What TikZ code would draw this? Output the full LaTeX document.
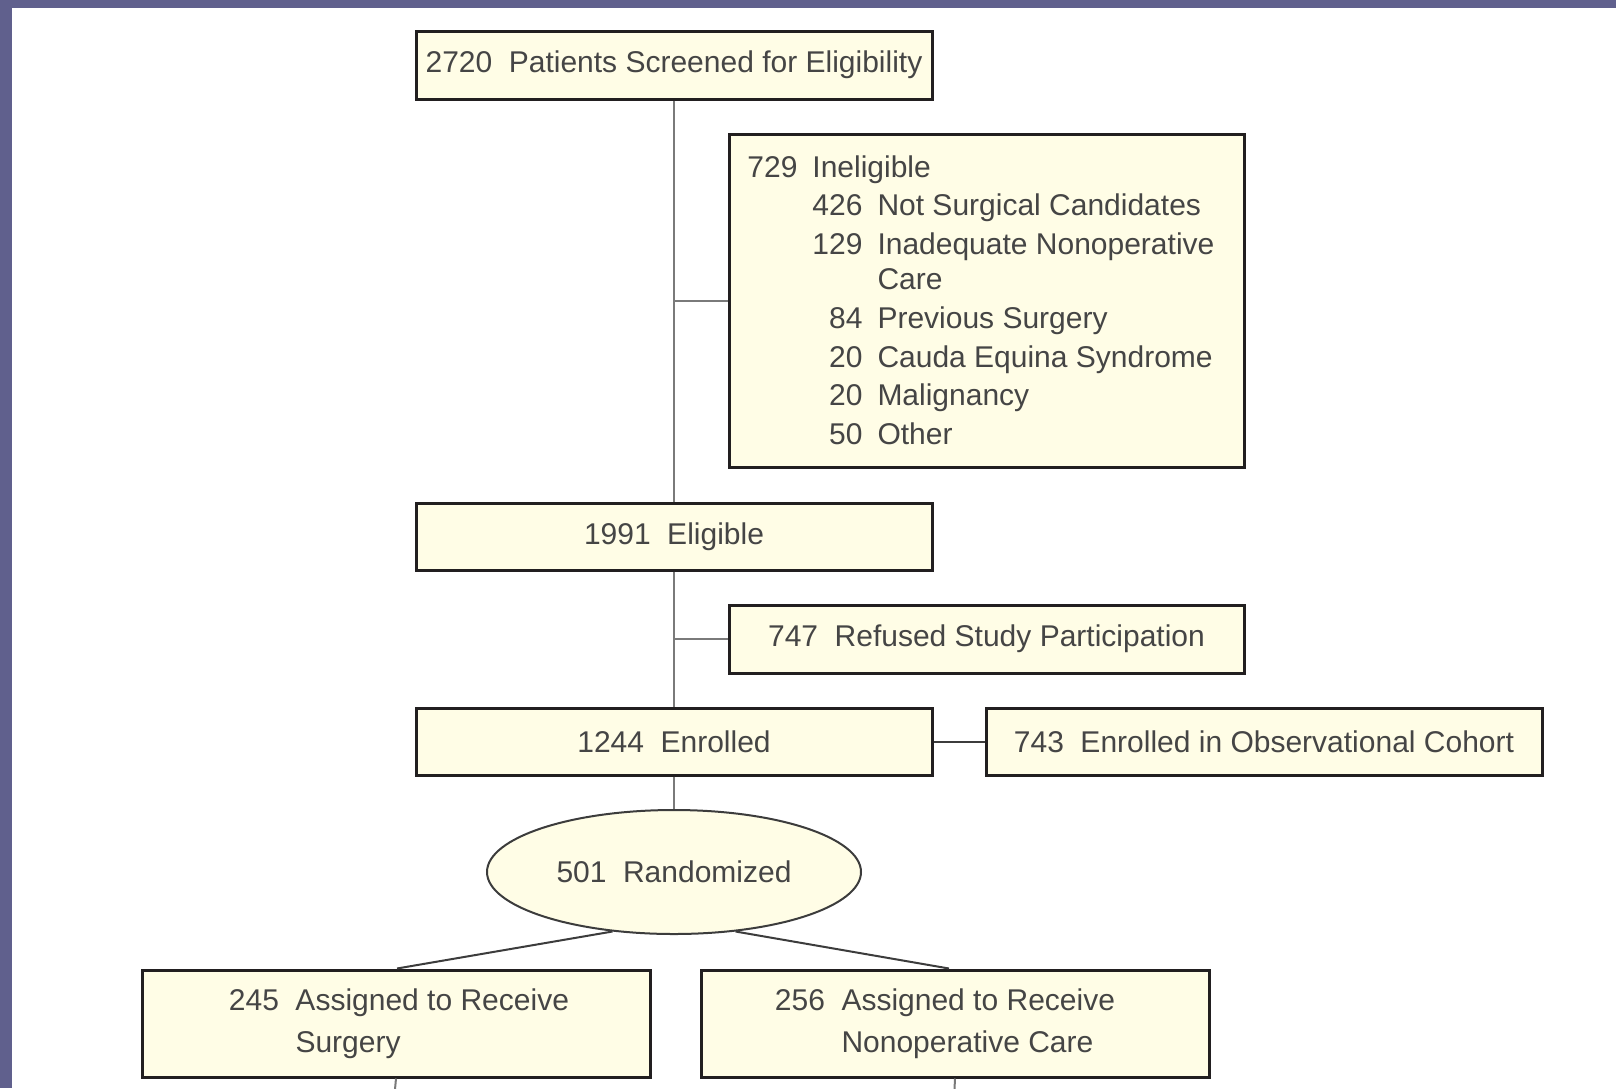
\documentclass[tikz,border=0pt]{standalone}
\usepackage{fontspec}
\setmainfont{Liberation Sans}
\usetikzlibrary{shapes.geometric,calc}
\definecolor{boxfill}{HTML}{FFFDE6}
\definecolor{frame}{HTML}{221F20}
\definecolor{linkgray}{HTML}{7A7A7A}
\definecolor{darklink}{HTML}{3C3C3C}
\definecolor{txt}{HTML}{454545}
\definecolor{band}{HTML}{60608D}
\newcommand\numgap{\hspace{0.55em}}
\begin{document}
\begin{tikzpicture}[x=0.5pt,y=-0.5pt,
  txtfont/.style={text=txt,font=\fontsize{15}{19.75}\selectfont},
  box/.style={draw=frame,line width=1.5pt,fill=boxfill,inner sep=0pt,txtfont},
  ell/.style={ellipse,draw=darklink,line width=1pt,fill=boxfill,inner sep=0pt,txtfont},
  trunk/.style={draw=linkgray,line width=1pt},
  branch/.style={draw=darklink,line width=1pt}]
\useasboundingbox (0,0) rectangle (1616,1088);
\fill[band] (0,0) rectangle (1616,8);
\fill[band] (0,0) rectangle (12,1088);

% boxes
\node[box,minimum width=258pt,minimum height=34pt] (b1) at (674,65)
  {2720\numgap Patients Screened for Eligibility};
\node[box,minimum width=257.5pt,minimum height=166.5pt] (inelig) at (986.5,300.5) {};
\node[anchor=base west,inner sep=0pt,text=txt,font=\fontsize{15}{19.4}\selectfont] (ineligtext) at (747,177)
  {\begin{tabular}[t]{@{}l@{\hspace{7.5pt}}r@{\hspace{7.5pt}}l@{}}
   729 & \multicolumn{2}{@{}l}{Ineligible}\\
       & 426 & Not Surgical Candidates\\
       & 129 & Inadequate Nonoperative\\[-2pt]
       &     & Care\\
       & 84  & Previous Surgery\\
       & 20  & Cauda Equina Syndrome\\
       & 20  & Malignancy\\
       & 50  & Other
   \end{tabular}};
\node[box,minimum width=258pt,minimum height=33.5pt] (elig) at (674,536.5)
  {1991\numgap Eligible};
\node[box,minimum width=257.5pt,minimum height=34pt] (refused) at (986.5,639)
  {747\numgap Refused Study Participation};
\node[box,minimum width=258pt,minimum height=33.5pt] (enrolled) at (674,741.5)
  {1244\numgap Enrolled};
\node[box,minimum width=278pt,minimum height=33.5pt] (obs) at (1264,741.5)
  {743\numgap Enrolled in Observational Cohort};
\node[ell,minimum width=187pt,minimum height=62pt] (rand) at (674,872)
  {501\numgap Randomized};
\node[box,minimum width=254pt,minimum height=53.5pt,align=left] (surg) at (396,1023.5)
  {\hspace*{3pt}245\numgap Assigned to Receive\\[1pt]\hspace*{3pt}\phantom{245\numgap}Surgery};
\node[box,minimum width=254pt,minimum height=53.5pt,align=left] (nonop) at (955,1023.5)
  {256\numgap Assigned to Receive\hspace*{10pt}\\[1pt]\phantom{256\numgap}Nonoperative Care};

\coordinate (surgend) at (394,1100);
\coordinate (nonopend) at (954,1100);

% connectors
\draw[trunk] (b1.south) -- (elig.north);
\draw[trunk] (inelig.west) -- (inelig.west -| b1.south);
\draw[trunk] (elig.south) -- (enrolled.north);
\draw[trunk] (refused.west) -- (refused.west -| elig.south);
\draw[trunk] (enrolled.south) -- (rand.north);
\draw[branch] (enrolled.east) -- (obs.west);
\draw[branch] (rand.224) -- ($(surg.north)+(1,0)$);
\draw[branch] (rand.316) -- ($(nonop.north)+(-6,0)$);
\draw[trunk] (surg.south) -- (surgend);
\draw[trunk] (nonop.south) -- (nonopend);
\end{tikzpicture}
\end{document}
